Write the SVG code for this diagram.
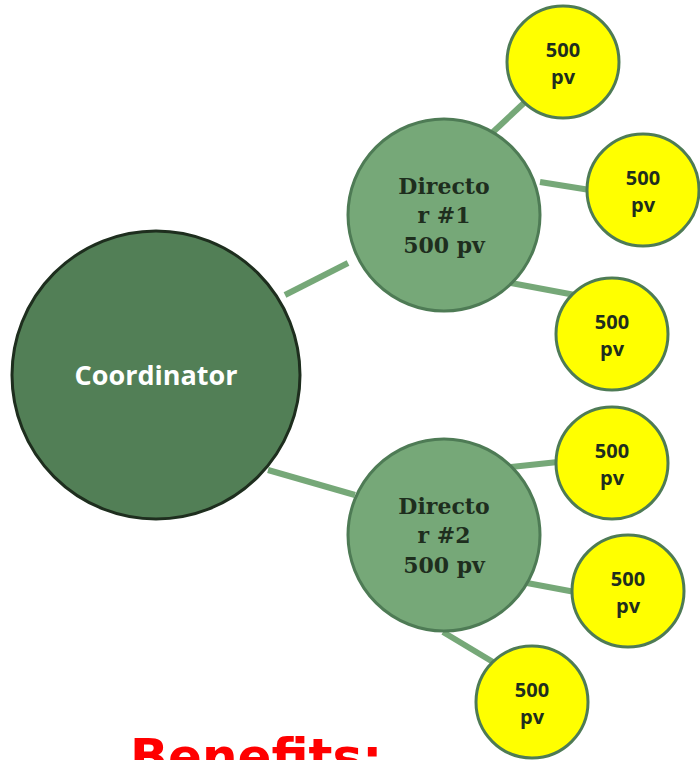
<svg xmlns="http://www.w3.org/2000/svg" width="700" height="760" viewBox="0 0 700 760">
<style>
.link{stroke:#76a878;stroke-width:6;fill:none}
.leaf{fill:#ffff00;stroke:#4e7b55;stroke-width:3}
.dir{fill:#76a878;stroke:#4e7b55;stroke-width:3}
.leaft{font-family:"Open Sans","DejaVu Sans",sans-serif;font-weight:bold;font-size:20px;fill:#1e2e1e;text-anchor:middle}
.dirt{font-family:"DejaVu Serif","Liberation Serif",serif;font-weight:bold;font-size:22px;fill:#1e2e1e;text-anchor:middle}
</style>
<rect width="700" height="760" fill="#ffffff"/>
<g id="connectors">
<line class="link" x1="285" y1="295" x2="348" y2="263"/>
<line class="link" x1="268" y1="470" x2="355" y2="495"/>
<line class="link" x1="493" y1="132" x2="525" y2="102"/>
<line class="link" x1="540" y1="182" x2="590" y2="190"/>
<line class="link" x1="511" y1="283" x2="575" y2="295"/>
<line class="link" x1="511" y1="467" x2="558" y2="462"/>
<line class="link" x1="527" y1="583" x2="575" y2="592"/>
<line class="link" x1="443" y1="632" x2="493" y2="662"/>
</g>
<g id="coordinator">
<circle cx="156" cy="375" r="144" fill="#527f56" stroke="#1e2e1e" stroke-width="3"/>
<text x="156" y="385" font-family="'Open Sans','DejaVu Sans',sans-serif" font-weight="bold" font-size="27" fill="#ffffff" text-anchor="middle">Coordinator</text>
</g>
<g id="director1">
<circle class="dir" cx="444" cy="215" r="96"/>
<text class="dirt" x="444" y="194">Directo</text>
<text class="dirt" x="444" y="223">r #1</text>
<text class="dirt" x="444" y="253">500 pv</text>
</g>
<g id="director2">
<circle class="dir" cx="444" cy="535" r="96"/>
<text class="dirt" x="444" y="514">Directo</text>
<text class="dirt" x="444" y="543">r #2</text>
<text class="dirt" x="444" y="573">500 pv</text>
</g>
<g id="leaf1"><circle class="leaf" cx="563" cy="62" r="56"/><text class="leaft" x="563" y="57">500</text><text class="leaft" x="563" y="84">pv</text></g>
<g id="leaf2"><circle class="leaf" cx="643" cy="190" r="56"/><text class="leaft" x="643" y="185">500</text><text class="leaft" x="643" y="212">pv</text></g>
<g id="leaf3"><circle class="leaf" cx="612" cy="334" r="56"/><text class="leaft" x="612" y="329">500</text><text class="leaft" x="612" y="356">pv</text></g>
<g id="leaf4"><circle class="leaf" cx="612" cy="463" r="56"/><text class="leaft" x="612" y="458">500</text><text class="leaft" x="612" y="485">pv</text></g>
<g id="leaf5"><circle class="leaf" cx="628" cy="591" r="56"/><text class="leaft" x="628" y="586">500</text><text class="leaft" x="628" y="613">pv</text></g>
<g id="leaf6"><circle class="leaf" cx="532" cy="702" r="56"/><text class="leaft" x="532" y="697">500</text><text class="leaft" x="532" y="724">pv</text></g>
<text x="130" y="774" font-family="'DejaVu Sans',sans-serif" font-weight="bold" font-size="50" fill="#ff0000">Benefits:</text>
</svg>
